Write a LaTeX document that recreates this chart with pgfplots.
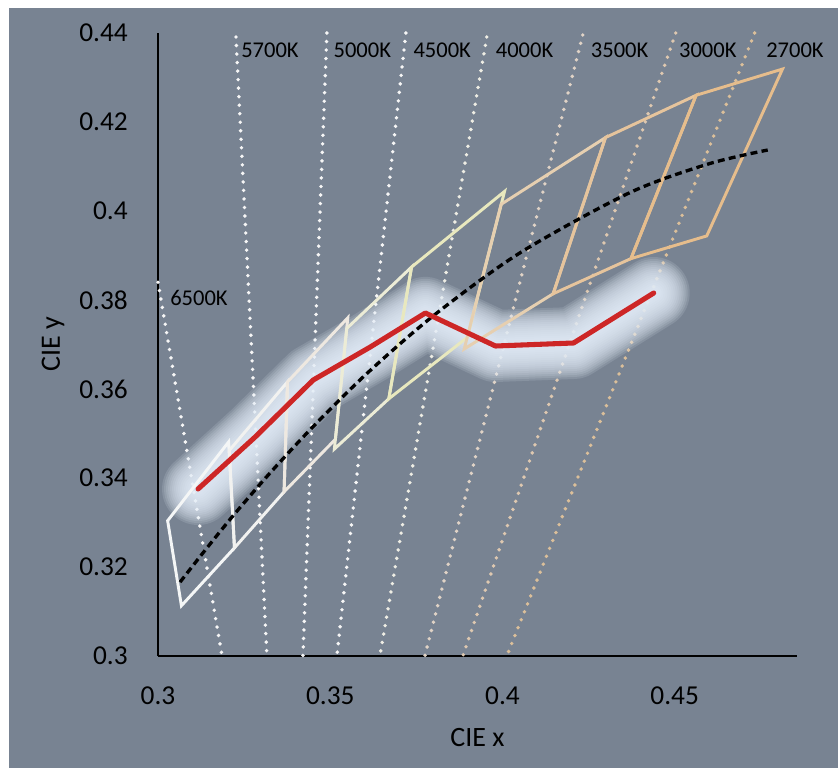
\documentclass[border=0pt]{standalone}
\usepackage{fontspec}
\setmainfont{Carlito}
\usepackage{pgfplots}
\pgfplotsset{compat=1.18}
\definecolor{bg}{RGB}{120,131,146}
\definecolor{glow}{RGB}{230,239,250}
\definecolor{redline}{RGB}{205,38,38}
\definecolor{q65}{RGB}{244,246,246}
\definecolor{q57}{RGB}{242,242,240}
\definecolor{q50}{RGB}{238,232,224}
\definecolor{q45}{RGB}{236,236,214}
\definecolor{q40}{RGB}{232,232,190}
\definecolor{q35}{RGB}{230,207,176}
\definecolor{q30}{RGB}{230,196,156}
\definecolor{q27}{RGB}{230,189,140}
\definecolor{i65}{RGB}{246,246,246}
\definecolor{i40}{RGB}{238,237,228}
\definecolor{i35}{RGB}{224,211,198}
\definecolor{i30}{RGB}{222,200,176}
\definecolor{i27}{RGB}{219,191,154}
\tikzset{
  iso/.style={line width=2.9pt, line cap=round, dash pattern=on 0pt off 6.4pt},
  quad/.style={line width=2.2pt, line join=miter},
  lbl/.style={anchor=west, inner sep=0pt, font=\fontsize{16.9}{20}\selectfont, text=black},
  redpts/.style={line join=round, line cap=round},
}
\pgfplotstableread{
x y
0.31163 0.33753
0.32820 0.34921
0.34506 0.36202
0.36163 0.36944
0.37762 0.37708
0.39797 0.36966
0.42064 0.37034
0.44390 0.38157
}\measured
\begin{document}
\begin{tikzpicture}
\fill[white] (-118.5pt,-84pt) rectangle (510pt,492pt);
\fill[bg] (-111.75pt,-84pt) rectangle (510pt,486pt);
\begin{axis}[
  at={(0pt,0pt)}, anchor=south west,
  scale only axis, width=479.25pt, height=467.25pt,
  xmin=0.3, xmax=0.4855, ymin=0.3, ymax=0.44,
  clip=false,
  axis lines=left,
  axis line style={-, line width=1.5pt, black},
  xtick={0.3,0.35,0.4,0.45}, xticklabels={0.3,0.35,0.4,0.45},
  ytick={0.3,0.32,0.34,0.36,0.38,0.4,0.42,0.44},
  yticklabels={0.3,0.32,0.34,0.36,0.38,0.4,0.42,0.44},
  major tick length=0pt,
  /pgf/number format/assume math mode=true,
  tick label style={font=\fontsize{20.5}{24}\selectfont, text=black, inner sep=0pt},
  xticklabel style={anchor=north, yshift=-22.9pt},
  yticklabel style={anchor=east, xshift=-22.5pt},
]
% isotherms
\addplot[iso, i65] coordinates {(0.3,0.3840) (0.3186,0.3)};
\addplot[iso, i65] coordinates {(0.32263,0.4391) (0.33162,0.3)};
\addplot[iso, i65] coordinates {(0.34903,0.44) (0.34207,0.3)};
\addplot[iso, i65] coordinates {(0.37195,0.44) (0.35193,0.3)};
\addplot[iso, i40] coordinates {(0.39545,0.4391) (0.36441,0.3)};
\addplot[iso, i35] coordinates {(0.42331,0.43955) (0.37747,0.3)};
\addplot[iso, i30] coordinates {(0.45029,0.44) (0.38849,0.3)};
\addplot[iso, i27] coordinates {(0.47321,0.44) (0.40126,0.3)};
% glow around measured line
\pgfplotsinvokeforeach{54,51,48,45,42,39,36,33,30,27,24,21,18,15,12,9,6}{
  \addplot[redpts, glow, line width=#1pt, draw opacity=0.14] table {\measured};
}
% quadrangles
\addplot[quad, q65] coordinates {(0.3205,0.3481) (0.3028,0.3304) (0.3068,0.3113) (0.3222,0.3243) (0.3205,0.3481) (0.3028,0.3304)};
\addplot[quad, q57] coordinates {(0.3376,0.3616) (0.3207,0.3462) (0.3222,0.3243) (0.3366,0.3369) (0.3376,0.3616) (0.3207,0.3462)};
\addplot[quad, q50] coordinates {(0.3551,0.3760) (0.3376,0.3616) (0.3366,0.3369) (0.3515,0.3487) (0.3551,0.3760) (0.3376,0.3616)};
\addplot[quad, q45] coordinates {(0.3736,0.3874) (0.3548,0.3736) (0.3512,0.3465) (0.3670,0.3578) (0.3736,0.3874) (0.3548,0.3736)};
\addplot[quad, q40] coordinates {(0.4006,0.4044) (0.3736,0.3874) (0.3670,0.3578) (0.3898,0.3716) (0.4006,0.4044) (0.3736,0.3874)};
\addplot[quad, q35] coordinates {(0.4299,0.4165) (0.3996,0.4015) (0.3889,0.3690) (0.4147,0.3814) (0.4299,0.4165) (0.3996,0.4015)};
\addplot[quad, q30] coordinates {(0.4562,0.4260) (0.4299,0.4165) (0.4147,0.3814) (0.4373,0.3893) (0.4562,0.4260) (0.4299,0.4165)};
\addplot[quad, q27] coordinates {(0.4813,0.4319) (0.4562,0.4260) (0.4373,0.3893) (0.4593,0.3944) (0.4813,0.4319) (0.4562,0.4260)};
% Planckian locus
\addplot[black, line width=2.5pt, dash pattern=on 5.2pt off 3.2pt, smooth] coordinates {(0.3064,0.3166) (0.3135,0.3236) (0.3221,0.3318) (0.3325,0.3411) (0.3451,0.3516) (0.3608,0.3636) (0.3805,0.3768) (0.4053,0.3907) (0.4369,0.4041) (0.4599,0.4106) (0.4770,0.4137)};
% measured
\addplot[redpts, redline, line width=3.8pt] table {\measured};
% labels
\node[lbl] at (axis cs:0.30348,0.38045) {6500K};
\node[lbl] at (axis cs:0.3241,0.4362) {5700K};
\node[lbl] at (axis cs:0.3509,0.4362) {5000K};
\node[lbl] at (axis cs:0.3741,0.4362) {4500K};
\node[lbl] at (axis cs:0.3980,0.4362) {4000K};
\node[lbl] at (axis cs:0.4256,0.4362) {3500K};
\node[lbl] at (axis cs:0.4512,0.4362) {3000K};
\node[lbl] at (axis cs:0.4765,0.4362) {2700K};
\end{axis}
\node[font=\fontsize{21}{24}\selectfont, inner sep=0pt] at (239.6pt,-61.5pt) {CIE x};
\node[font=\fontsize{21}{24}\selectfont, inner sep=0pt, rotate=90] at (-78.75pt,233.6pt) {CIE y};
\pgfresetboundingbox
\useasboundingbox (-118.5pt,-84pt) rectangle (510pt,492pt);
\end{tikzpicture}
\end{document}
